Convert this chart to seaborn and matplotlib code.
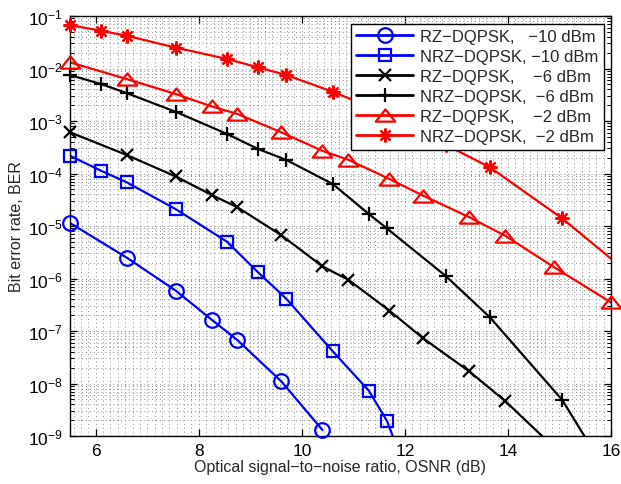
import matplotlib
matplotlib.use("Agg")
import numpy as np
import pandas as pd
import matplotlib.pyplot as plt
import seaborn as sns
from matplotlib.lines import Line2D
from matplotlib.path import Path
from matplotlib.ticker import MultipleLocator, LogLocator, NullFormatter, FixedLocator

sns.set_style("ticks")
plt.rcParams["font.family"] = ["Liberation Sans", "DejaVu Sans"]
plt.rcParams["mathtext.fontset"] = "custom"
plt.rcParams["mathtext.rm"] = "Liberation Sans"
plt.rcParams["mathtext.it"] = "Liberation Sans:italic"

# OSNR sampling points (dB)
osnr_rz = [5.5, 6.6, 7.55, 8.25, 8.75, 9.6, 10.4, 10.9, 11.7, 12.35, 13.25, 13.95, 14.9, 16.0]
osnr_nrz = [5.5, 6.1, 6.6, 7.55, 8.55, 9.15, 9.7, 10.6, 11.3, 11.65, 12.8, 13.65, 15.05, 16.3]

# BER curves
ber_rz_m10 = [1.14e-5, 2.5e-6, 5.9e-7, 1.64e-7, 6.7e-8, 1.1e-8, 1.3e-9]
ber_nrz_m10 = [2.18e-4, 1.13e-4, 6.8e-5, 2.1e-5, 5.0e-6, 1.31e-6, 4.1e-7, 4.1e-8, 7.3e-9, 1.95e-9]
osnr_nrz_m10 = osnr_nrz[:10] + [12.0]
ber_nrz_m10_ext = ber_nrz_m10 + [2.5e-10]
ber_rz_m6 = [6.1e-4, 2.25e-4, 8.8e-5, 3.9e-5, 2.27e-5, 6.7e-6, 1.7e-6, 9.5e-7,
             2.44e-7, 7.3e-8, 1.7e-8, 4.6e-9, 6.0e-10]
ber_nrz_m6 = [7.5e-3, 5.07e-3, 3.4e-3, 1.5e-3, 5.65e-4, 2.93e-4, 1.81e-4, 6.3e-5,
              1.69e-5, 9.0e-6, 1.1e-6, 1.82e-7, 4.9e-9, 5.0e-11]
ber_rz_m2 = [1.31e-2, 6.3e-3, 3.27e-3, 1.9e-3, 1.36e-3, 6.1e-4, 2.7e-4, 1.83e-4,
             7.85e-5, 3.8e-5, 1.47e-5, 6.5e-6, 1.63e-6, 3.5e-7]
ber_nrz_m2 = [6.7e-2, 5.25e-2, 4.2e-2, 2.5e-2, 1.52e-2, 1.05e-2, 7.5e-3, 3.6e-3,
              1.89e-3, 1.3e-3, 3.5e-4, 1.31e-4, 1.4e-5, 1.37e-6]

labels = [
    "RZ\u2212DQPSK,   \u221210 dBm",
    "NRZ\u2212DQPSK, \u221210 dBm",
    "RZ\u2212DQPSK,    \u22126 dBm",
    "NRZ\u2212DQPSK,  \u22126 dBm",
    "RZ\u2212DQPSK,    \u22122 dBm",
    "NRZ\u2212DQPSK,  \u22122 dBm",
]

XMIN, XMAX = 5.5, 16.0
YMIN, YMAX = 1e-9, 1e-1

# flat open triangle like the classic MATLAB '^'
tri = Path([(0, 0.63), (-1, -0.63), (1, -0.63), (0, 0.63)],
           [Path.MOVETO, Path.LINETO, Path.LINETO, Path.CLOSEPOLY])
star = (8, 2, 0)

series = [
    (osnr_rz[:7], ber_rz_m10, "#0000ff", "o", 10.5),
    (osnr_nrz_m10, ber_nrz_m10_ext, "#0000ff", "s", 9),
    (osnr_rz[:13], ber_rz_m6, "black", "x", 8),
    (osnr_nrz, ber_nrz_m6, "black", "+", 10),
    (osnr_rz, ber_rz_m2, "#ff0000", tri, 14),
    (osnr_nrz, ber_nrz_m2, "#ff0000", star, 10),
]

fig = plt.figure(figsize=(6.21, 4.85), dpi=100)
ax = fig.add_axes([70 / 621, 1 - 437 / 485, 541 / 621, 420 / 485])
ax.set_yscale("log")

LW = 1.6
handles = []
for (xs, ys, col, mk, ms), lab in zip(series, labels):
    df = pd.DataFrame({"osnr": xs, "ber": ys})
    # curve, clipped to the axes
    sns.lineplot(data=df, x="osnr", y="ber", ax=ax, color=col, lw=LW,
                 sort=False, estimator=None, legend=False, zorder=2)
    # markers for the samples inside the plotted range, drawn unclipped
    inside = df[(df.osnr >= XMIN) & (df.osnr <= XMAX + 1e-9) &
                (df.ber >= YMIN) & (df.ber <= YMAX)]
    sns.lineplot(data=inside, x="osnr", y="ber", ax=ax, color=col,
                 linestyle="none", marker=mk, markersize=ms,
                 markerfacecolor="none", markeredgecolor=col,
                 markeredgewidth=LW, sort=False, estimator=None,
                 legend=False, clip_on=False, zorder=3)
    handles.append(Line2D([], [], color=col, lw=LW + 0.4, marker=mk,
                          markersize=ms, markerfacecolor="none",
                          markeredgecolor=col, markeredgewidth=LW))

ax.set_xlim(XMIN, XMAX)
ax.set_ylim(YMIN, YMAX)
ax.xaxis.set_major_locator(FixedLocator([6, 8, 10, 12, 14, 16]))
ax.xaxis.set_minor_locator(MultipleLocator(2 / 14))
ax.xaxis.set_minor_formatter(NullFormatter())
ax.yaxis.set_major_locator(LogLocator(base=10, numticks=20))
ax.yaxis.set_minor_locator(LogLocator(base=10, subs=np.arange(2, 10), numticks=20))
ax.yaxis.set_minor_formatter(NullFormatter())

grid_style = dict(linestyle=(0, (1, 3)), color="0.55", lw=0.7)
ax.grid(which="major", **grid_style)
ax.grid(which="minor", **grid_style)
ax.set_axisbelow(True)

ax.tick_params(which="both", direction="in", top=True, right=True, colors="black")
ax.tick_params(which="major", length=5, width=0.9, labelsize=12.5, pad=5)
ax.tick_params(axis="y", which="minor", length=3, width=0.7)
ax.tick_params(axis="x", which="minor", length=0)
for sp in ax.spines.values():
    sp.set_linewidth(1.0)
    sp.set_color("black")

ax.set_xlabel("Optical signal\u2212to\u2212noise ratio, OSNR (dB)", fontsize=11.5, labelpad=1)
ax.set_ylabel("Bit error rate, BER", fontsize=11.5, labelpad=3)

leg = ax.legend(handles, labels, loc="upper right", fontsize=12,
                handlelength=3.4, handletextpad=0.4, labelspacing=0.3,
                borderpad=0.33, borderaxespad=0.45, fancybox=False,
                framealpha=1, edgecolor="black")
leg.get_frame().set_linewidth(1.0)
leg.set_zorder(10)

fig.savefig("out.png", dpi=100)
